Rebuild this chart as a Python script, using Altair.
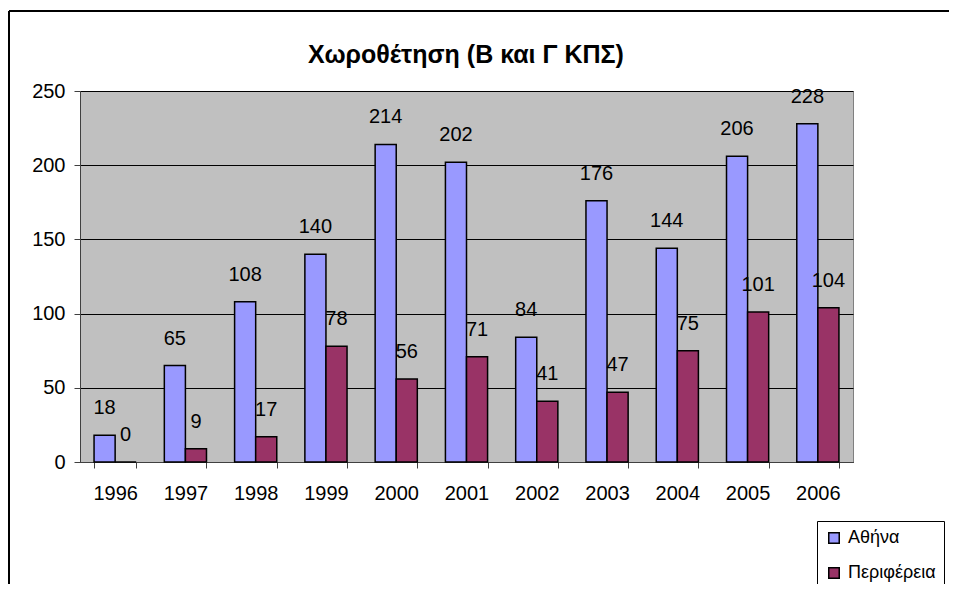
import altair as alt
import pandas as pd

years = ["1996", "1997", "1998", "1999", "2000", "2001", "2002", "2003", "2004", "2005", "2006"]
athens = [18, 65, 108, 140, 214, 202, 84, 176, 144, 206, 228]
periphery = [0, 9, 17, 78, 56, 71, 41, 47, 75, 101, 104]
series = ["Αθήνα", "Περιφέρεια"]
colors = ["#9999FF", "#993366"]
title_text = ["Χωροθέτηση (Β και Γ ΚΠΣ)"]

rows = []
for i, y in enumerate(years):
    rows.append({"year": y, "series": series[0], "value": athens[i]})
    rows.append({"year": y, "series": series[1], "value": periphery[i]})
df = pd.DataFrame(rows)

FONT = "Liberation Sans"

x_enc = alt.X("year:N", sort=years, title=None,
              scale=alt.Scale(paddingInner=0.4, paddingOuter=0.2),
              axis=alt.Axis(labelAngle=0, labelFontSize=20, labelPadding=15,
                            tickBand="extent", tickSize=6, tickColor="#404040",
                            domainColor="#404040", labelColor="black", labelFont=FONT))
y_enc = alt.Y("value:Q", title=None,
              scale=alt.Scale(domain=[0, 250], nice=False),
              axis=alt.Axis(values=[0, 50, 100, 150, 200, 250], labelFontSize=20,
                            labelPadding=9, tickSize=6, tickColor="#404040",
                            domainColor="#404040", grid=True, gridColor="black",
                            gridWidth=1, labelColor="black", labelFont=FONT))
xo = alt.XOffset("series:N", sort=series, scale=alt.Scale(domain=series))

base = alt.Chart(df)

bars = base.mark_bar(stroke="black", strokeWidth=1.5).encode(
    x=x_enc, y=y_enc, xOffset=xo,
    color=alt.Color("series:N", sort=series,
                    scale=alt.Scale(domain=series, range=colors),
                    legend=alt.Legend(title=None, orient="none", legendX=737, legendY=430,
                                      strokeColor="black", fillColor="white",
                                      padding=8, symbolType="square", symbolSize=110,
                                      symbolStrokeColor="black", symbolStrokeWidth=1.5,
                                      labelFontSize=18, labelFont=FONT, labelColor="black",
                                      labelOffset=5, rowPadding=17, labelLimit=200)),
)

labels = base.mark_text(baseline="middle", dy=-27, fontSize=20, font=FONT, color="black").encode(
    x=alt.X("year:N", sort=years), y="value:Q", xOffset=xo,
    text="value:Q",
)

frame_df = pd.DataFrame({"k": [0]})
frame_left = alt.Chart(frame_df).mark_rule(stroke="black", strokeWidth=2).encode(
    x=alt.value(-71), y=alt.value(-80), y2=alt.value(700)
)
frame_top = alt.Chart(frame_df).mark_rule(stroke="black", strokeWidth=2).encode(
    x=alt.value(-71), x2=alt.value(2000), y=alt.value(-80)
)

title_df = pd.DataFrame({"t": title_text})
title = alt.Chart(title_df).mark_text(fontSize=25, font=FONT, fontWeight="bold",
                                       color="black", baseline="middle", align="center").encode(
    x=alt.value(386), y=alt.value(-36), text="t:N"
)

chart = alt.layer(frame_left, frame_top, bars, labels, title).properties(
    width=773, height=371,
    autosize=alt.AutoSizeParams(type="none"),
    padding={"left": 72, "top": 83, "right": 96, "bottom": 122},
    background="white",
).configure_view(fill="#C0C0C0", stroke="#808080", strokeWidth=1)

chart.save("out.html", embed_options={"renderer": "svg", "actions": False})
